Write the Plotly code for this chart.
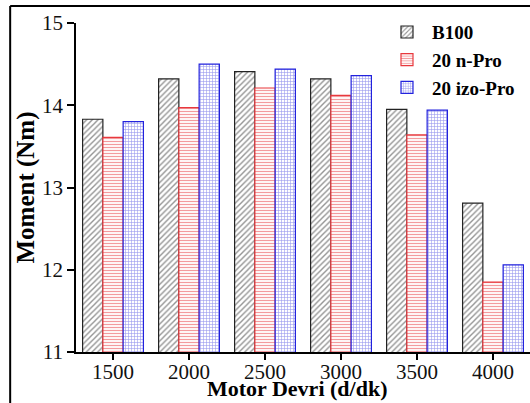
import plotly.graph_objects as go

categories = ["1500", "2000", "2500", "3000", "3500", "4000"]
b100 = [13.83, 14.32, 14.41, 14.32, 13.95, 12.81]
n_pro = [13.61, 13.97, 14.21, 14.12, 13.64, 11.85]
izo_pro = [13.80, 14.50, 14.44, 14.36, 13.94, 12.06]
series_names = ["B100", "20 n-Pro", "20 izo-Pro"]
x_title = "Motor Devri (d/dk)"
y_title = "Moment (Nm)"

FONT = "Liberation Serif, Times New Roman, serif"

fig = go.Figure()
styles = [
    dict(shape="/", fg="#2a2a2a", bg="white", line="#222222", size=4, sol=0.35),
    dict(shape="-", fg="#e8383d", bg="white", line="#e8383d", size=3, sol=0.4),
    dict(shape="+", fg="#3333dd", bg="white", line="#2222dd", size=3, sol=0.35),
]
for name, vals, st in zip(series_names, [b100, n_pro, izo_pro], styles):
    fig.add_trace(go.Bar(
        x=categories, y=vals, name=name,
        marker=dict(
            color=st["bg"],
            line=dict(color=st["line"], width=1.2),
            pattern=dict(shape=st["shape"], fgcolor=st["fg"], bgcolor=st["bg"],
                         size=st["size"], solidity=st["sol"], fillmode="overlay"),
        ),
    ))

fig.update_layout(
    width=530, height=403,
    margin=dict(l=76, r=0, t=23, b=51),
    paper_bgcolor="white", plot_bgcolor="white",
    barmode="group", bargap=0.2, bargroupgap=0,
    font=dict(family=FONT, size=20, color="black"),
    showlegend=True,
    legend=dict(x=0.674, y=1.03, xanchor="left", yanchor="top",
                font=dict(family=FONT, size=19, color="black", weight="bold"),
                bgcolor="rgba(0,0,0,0)", itemwidth=40, tracegroupgap=0),
    xaxis=dict(
        type="category", range=[-0.487, 5.487],
        showline=True, linecolor="black", linewidth=1.5,
        ticks="outside", ticklen=6, tickwidth=1.5, tickcolor="black",
        ticklabelstandoff=-6,
        showgrid=False, zeroline=False,
        tickfont=dict(family=FONT, size=21, color="#111"),
    ),
    yaxis=dict(
        range=[11, 15], tickvals=[11, 12, 13, 14, 15],
        showline=True, linecolor="black", linewidth=1.5,
        ticks="outside", ticklen=7, tickwidth=1.5, tickcolor="black",
        showgrid=False, zeroline=False,
        tickfont=dict(family=FONT, size=21, color="#111"),
        title=dict(text=y_title, standoff=0,
                   font=dict(family=FONT, size=25, color="black", weight="bold")),
    ),
    annotations=[dict(text=x_title, xref="paper", yref="paper",
                      x=0.487, y=-0.155, xanchor="center", yanchor="bottom",
                      showarrow=False,
                      font=dict(family=FONT, size=22, color="black", weight="bold"))],
    shapes=[
        dict(type="line", xref="paper", yref="paper", x0=-0.145, x1=1.1, y0=1.052, y1=1.052,
             line=dict(color="black", width=2)),
        dict(type="line", xref="paper", yref="paper", x0=-0.145, x1=-0.145, y0=1.052, y1=-0.3,
             line=dict(color="black", width=2)),
    ],
)

fig.write_html("out.html")
